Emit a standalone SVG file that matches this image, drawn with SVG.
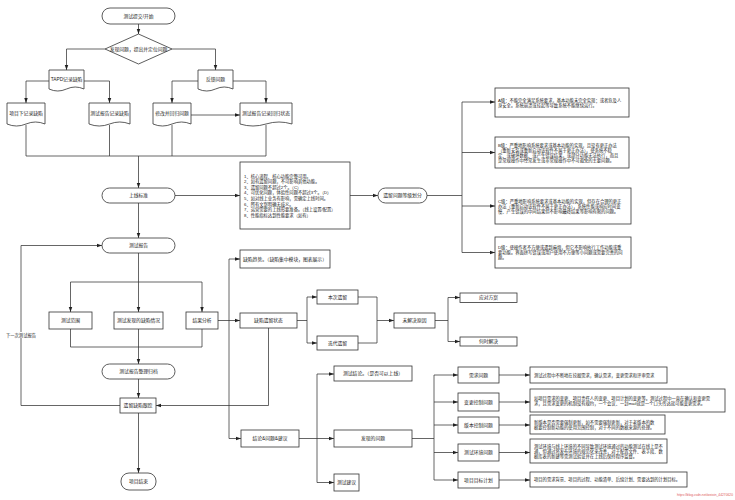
<svg xmlns="http://www.w3.org/2000/svg" width="735" height="500" viewBox="0 0 735 500">
<style>
.b{fill:#fff;stroke:#333;stroke-width:0.8}
.c{fill:none;stroke:#333;stroke-width:0.75}
.a{marker-end:url(#ah)}
text{font-family:"Liberation Sans","Noto Sans CJK SC",sans-serif;fill:#222}
.t{font-size:4.8px;text-anchor:middle;dominant-baseline:central}
.d{font-size:4.3px;dominant-baseline:central}
.w{font-size:3.3px;fill:#e05a5a;text-anchor:end}
</style>
<defs>
<marker id="ah" markerUnits="userSpaceOnUse" markerWidth="5" markerHeight="5" viewBox="0 0 10 10" refX="10" refY="5" orient="auto"><path d="M0,1.5L10,5L0,8.5z" fill="#222"/></marker>
</defs>
<rect width="735" height="500" fill="#fff"/>

<g id="connectors">
<path class="c a" d="M138.5,24V34"/>
<path class="c a" d="M105,49H66.5V70"/>
<path class="c a" d="M172,49H215.5V70"/>
<path class="c a" d="M49,81H26V103"/>
<path class="c a" d="M84,81H109.5V103"/>
<path class="c a" d="M198,81H172V103"/>
<path class="c a" d="M233,81H266V103"/>
<path class="c a" d="M191,115H240"/>
<path class="c" d="M26,125V156H266V125M109.5,125V156M172,125V156"/>
<path class="c a" d="M138.5,156V188"/>
<path class="c a" d="M175,195.5H240"/>
<path class="c a" d="M350,195.5H378"/>
<path class="c" d="M427,195.5H462M462,102V252.5"/>
<path class="c a" d="M462,102H495"/>
<path class="c a" d="M462,152.5H495"/>
<path class="c a" d="M462,206H495"/>
<path class="c a" d="M462,252.5H495"/>
<path class="c a" d="M138.5,203V238"/>
<path class="c a" d="M120,405.5H21V245.5H102"/>
<path class="c" d="M138.5,253V282M70.5,282H202"/>
<path class="c a" d="M70.5,282V312"/>
<path class="c a" d="M138.5,282V312"/>
<path class="c a" d="M202,282V312"/>
<path class="c" d="M70.5,329V347H202V329"/>
<path class="c a" d="M138.5,329V364"/>
<path class="c a" d="M138.5,379V398"/>
<path class="c a" d="M138.5,413V473"/>
<path class="c a" d="M218,320.5H240"/>
<path class="c a" d="M229,320.5V259H240"/>
<path class="c a" d="M229,320.5V438.5H241"/>
<path class="c" d="M297,320.5H307M307,297V343"/>
<path class="c a" d="M307,297H317"/>
<path class="c a" d="M307,343H317"/>
<path class="c" d="M358,297H377V343H358"/>
<path class="c a" d="M377,320.5H394"/>
<path class="c" d="M435,320.5H448M448,297.5V341.5"/>
<path class="c a" d="M448,297.5H460"/>
<path class="c a" d="M448,341.5H460"/>
<path class="c a" d="M268.5,328V405.5H156"/>
<path class="c" d="M299,438.5H317M317,374V482.5"/>
<path class="c a" d="M317,374H334"/>
<path class="c a" d="M317,438.5H334"/>
<path class="c a" d="M317,482.5H334"/>
<path class="c" d="M412,438.5H434M434,375V480"/>
<path class="c a" d="M434,375H458"/>
<path class="c a" d="M434,402H458"/>
<path class="c a" d="M434,425H458"/>
<path class="c a" d="M434,452.5H458"/>
<path class="c a" d="M434,480H458"/>
<path class="c a" d="M499,375H530"/>
<path class="c a" d="M499,402H530"/>
<path class="c a" d="M499,425H530"/>
<path class="c a" d="M499,452.5H530"/>
<path class="c a" d="M499,480H530"/>
</g>

<g id="n-start"><rect class="b" x="102" y="8" width="73" height="16" rx="8"/><text class="t" x="138.5" y="16">测试提交/开始</text></g>
<g id="n-find"><path class="b" d="M138.5,34L172,49L138.5,64L105,49z"/><text class="t" x="138.5" y="49">发现问题，提出并定位问题</text></g>
<g id="n-tapd"><path class="b" d="M49,70H84V89Q75.25,85 66.5,89Q57.75,93 49,89z"/><text class="t" x="66.5" y="79.5">TAPD记录缺陷</text></g>
<g id="n-feedback"><path class="b" d="M198,70H233V89Q224.25,85 215.5,89Q206.75,93 198,89z"/><text class="t" x="215.5" y="79.5">反馈问题</text></g>
<g id="n-proj"><path class="b" d="M7,103H45V124Q35.5,120 26,124Q16.5,128 7,124z"/><text class="t" x="26" y="113.5">项目下记录缺陷</text></g>
<g id="n-rep1"><path class="b" d="M89,103H130V124Q119.75,120 109.5,124Q99.25,128 89,124z"/><text class="t" x="109.5" y="113.5">测试报告记录缺陷</text></g>
<g id="n-fix"><path class="b" d="M153,103H191V124Q181.5,120 172,124Q162.5,128 153,124z"/><text class="t" x="172" y="113.5">修改并回归问题</text></g>
<g id="n-rep2"><path class="b" d="M240,103H292V124Q279,120 266,124Q253,128 240,124z"/><text class="t" x="266" y="113.5">测试报告记录回归状态</text></g>

<g id="n-online"><rect class="b" x="102" y="188" width="73" height="15" rx="7.5"/><text class="t" x="138.5" y="195.5">上线标准</text></g>
<g id="n-criteria"><rect class="b" x="240" y="162" width="110" height="67"/>
<text class="d" x="244" y="176">1、核心流程、核心功能完整可用。</text>
<text class="d" x="244" y="181.6">2、如有遗留问题，不可影响其他功能。</text>
<text class="d" x="244" y="187.2">3、遗留问题不超过2个。（C）</text>
<text class="d" x="244" y="192.8">4、可优化问题，体验性问题不超过3个。（D）</text>
<text class="d" x="244" y="198.4">5、如对线上业务有影响，需确定上线时间。</text>
<text class="d" x="244" y="204">6、所有文案明确无歧义。</text>
<text class="d" x="244" y="209.6">7、运营需要的上线形要准备。（线上设置/配置）</text>
<text class="d" x="244" y="215.2">8、性能指标达到性能要求（如有）</text>
</g>
<g id="n-level"><rect class="b" x="378" y="188" width="49" height="15" rx="7.5"/><text class="t" x="402.5" y="195.5">遗留问题等级划分</text></g>
<g id="n-A"><rect class="b" x="495" y="88" width="134" height="29"/>
<text class="d" x="498" y="100">A级：不能完全满足系统要求，基本功能未完全实现；或者危及人</text>
<text class="d" x="498" y="105">身安全。系统崩溃或挂起等导致系统不能继续运行。</text></g>
<g id="n-B"><rect class="b" x="495" y="137" width="134" height="31"/>
<text class="d" x="498" y="145">B级：严重地影响系统要求或基本功能的实现，且没有更正办法</text>
<text class="d" x="498" y="150">（重新安装或重新启动该软件不属于更正办法），使系统不稳</text>
<text class="d" x="498" y="155">定、或破坏数据、或产生错误结果，或部分功能无法执行，而且</text>
<text class="d" x="498" y="160">是常规操作中经常发生或非常规操作中不可避免的主要问题。</text></g>
<g id="n-C"><rect class="b" x="495" y="188" width="136" height="36"/>
<text class="d" x="498" y="201">C级：严重地影响系统要求或基本功能的实现，但存在合理的更正</text>
<text class="d" x="498" y="206">办法（重新启动该软件不属于更正办法），系统性能或响应时间变</text>
<text class="d" x="498" y="211">慢、产生错误的中间结果但不影响最终结果等影响有限的问题。</text></g>
<g id="n-D"><rect class="b" x="495" y="237" width="136" height="31"/>
<text class="d" x="498" y="247.5">D级：使操作者不方便或遇到麻烦，但它不影响执行工作功能或重</text>
<text class="d" x="498" y="252.5">要功能。界面拼写错误或用户使用不方便等小问题或需要完善的问</text>
<text class="d" x="498" y="257.5">题。</text></g>

<g id="n-report"><rect class="b" x="102" y="238" width="73" height="15" rx="7.5"/><text class="t" x="138.5" y="245.5">测试报告</text></g>
<g id="n-loop-label"><rect x="5" y="332" width="32" height="6" fill="#fff"/><text class="d" x="21" y="335" text-anchor="middle">下一次测试报告</text></g>
<g id="n-scope"><rect class="b" x="49" y="312" width="43" height="17"/><text class="t" x="70.5" y="320.5">测试范围</text></g>
<g id="n-defects"><rect class="b" x="114" y="312" width="49" height="17"/><text class="t" x="138.5" y="320.5">测试发现的缺陷情况</text></g>
<g id="n-analysis"><rect class="b" x="186" y="312" width="32" height="17"/><text class="t" x="202" y="320.5">结果分析</text></g>
<g id="n-archive"><rect class="b" x="102" y="364" width="73" height="15" rx="7.5"/><text class="t" x="138.5" y="371.5">测试报告整理归档</text></g>
<g id="n-track"><rect class="b" x="120" y="398" width="36" height="15"/><text class="t" x="138" y="405.5">遗留缺陷跟踪</text></g>
<g id="n-end"><rect class="b" x="121" y="473" width="35" height="17" rx="8"/><text class="t" x="138.5" y="481.5">项目结束</text></g>

<g id="n-trend"><rect class="b" x="240" y="250" width="90" height="18"/><text class="t" x="285" y="259">缺陷趋势。（缺陷集中模块，图表展示）</text></g>
<g id="n-status"><rect class="b" x="240" y="313" width="57" height="15"/><text class="t" x="268.5" y="320.5">缺陷遗留状态</text></g>
<g id="n-this"><rect class="b" x="317" y="290" width="41" height="14"/><text class="t" x="337.5" y="297">本次遗留</text></g>
<g id="n-iter"><rect class="b" x="317" y="336" width="41" height="14"/><text class="t" x="337.5" y="343">迭代遗留</text></g>
<g id="n-reason"><rect class="b" x="394" y="313" width="41" height="15"/><text class="t" x="414.5" y="320.5">未解决原因</text></g>
<g id="n-plan"><rect class="b" x="460" y="293" width="57" height="9.5"/><text class="t" x="488.5" y="297.8">应对方案</text></g>
<g id="n-when"><rect class="b" x="460" y="337" width="57" height="9"/><text class="t" x="488.5" y="341.5">何时解决</text></g>

<g id="n-concl"><rect class="b" x="241" y="430" width="58" height="17"/><text class="t" x="270" y="438.5">结论&amp;问题&amp;建议</text></g>
<g id="n-result"><rect class="b" x="334" y="366" width="78" height="15"/><text class="t" x="373" y="373.5">测试结论。（是否可以上线）</text></g>
<g id="n-found"><rect class="b" x="334" y="430" width="78" height="17"/><text class="t" x="373" y="438.5">发现的问题</text></g>
<g id="n-suggest"><rect class="b" x="334" y="474" width="25" height="17"/><text class="t" x="346.5" y="482.5">测试建议</text></g>

<g id="n-req"><rect class="b" x="458" y="367" width="41" height="16"/><text class="t" x="478.5" y="375">需求问题</text></g>
<g id="n-chg"><rect class="b" x="458" y="393" width="41" height="18"/><text class="t" x="478.5" y="402">变更控制问题</text></g>
<g id="n-ver"><rect class="b" x="458" y="417" width="41" height="16"/><text class="t" x="478.5" y="425">版本控制问题</text></g>
<g id="n-env"><rect class="b" x="458" y="444" width="41" height="17"/><text class="t" x="478.5" y="452.5">测试环境问题</text></g>
<g id="n-goal"><rect class="b" x="458" y="472" width="41" height="16"/><text class="t" x="478.5" y="480">项目目标计划</text></g>

<g id="n-req-d"><rect class="b" x="530" y="367" width="137" height="16"/>
<text class="d" x="534" y="375">测试过程中不断地在挖掘需求，确认需求，变更需求和评审需求</text></g>
<g id="n-chg-d"><rect class="b" x="530" y="389" width="195" height="23"/>
<text class="d" x="534" y="398">如项目需求的变更、项目责任人的变更、项目计划的变更等。测试过程中一直在确认和变更需</text>
<text class="d" x="534" y="403">求，且需求变更的机制没有规约，一个会议、一封mail就是一个口头传达就可能变更需求。</text></g>
<g id="n-ver-d"><rect class="b" x="530" y="415" width="135" height="19"/>
<text class="d" x="534" y="422">新版本是否需要强制更新，如不需要强制更新，对于老版本的数</text>
<text class="d" x="534" y="427">据要控制新功能的使用范围控制，对于不同的数据来源的处理。</text></g>
<g id="n-env-d"><rect class="b" x="530" y="439" width="137" height="24"/>
<text class="d" x="534" y="446">测试环境与线上环境的不同导致测试环境通过的功能测试在线上是不</text>
<text class="d" x="534" y="451">通，但通过将发布环境的规范化来改善，对于配置文件、表字段、数</text>
<text class="d" x="534" y="456">据库表的新建等需测试验证并在上线后保持程序监督。</text></g>
<g id="n-goal-d"><rect class="b" x="530" y="472" width="157" height="15"/>
<text class="d" x="534" y="479.5">项目的需求背景、项目的过程、功能清单、后续计划、需要达到的计划目标。</text></g>

<text class="w" x="733" y="496">https://blog.csdn.net/weixin_44270620</text>
</svg>
